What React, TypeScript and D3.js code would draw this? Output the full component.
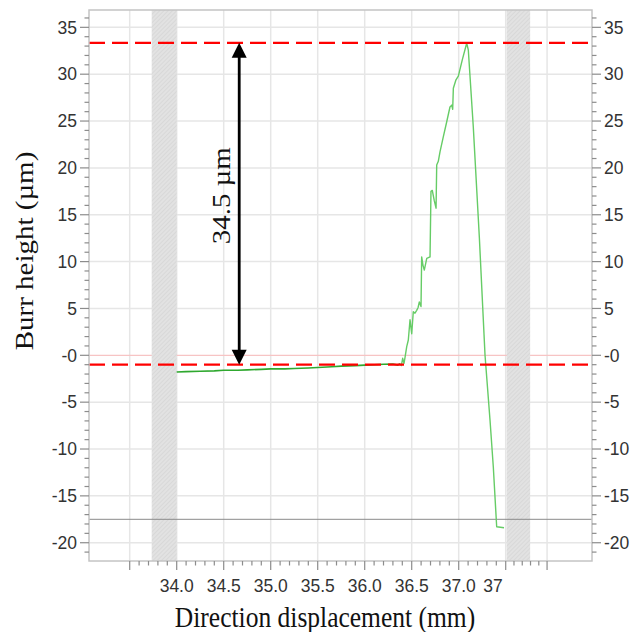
import * as d3 from 'd3';
import React, { useEffect, useRef } from 'react';

// values (x in mm, y in µm)
const flatX = [34.0, 34.1, 34.25, 34.4, 34.5, 34.65, 34.75, 34.9, 35.0, 35.15, 35.25, 35.4, 35.5, 35.65, 35.75, 35.9, 36.0, 36.1, 36.2, 36.3, 36.35, 36.376];
const flatY = [-1.78, -1.74, -1.7, -1.66, -1.6, -1.6, -1.55, -1.5, -1.45, -1.45, -1.4, -1.35, -1.3, -1.22, -1.15, -1.1, -1.05, -1.0, -0.95, -0.93, -1.05, -0.9];
const riseX = [36.376, 36.39, 36.404, 36.418, 36.429, 36.447, 36.464, 36.482, 36.5, 36.517, 36.535, 36.553, 36.568, 36.581, 36.599, 36.606, 36.62, 36.634, 36.66, 36.695, 36.705, 36.719, 36.74, 36.759, 36.766, 36.783, 36.801, 36.836, 36.872, 36.907, 36.926, 36.936, 36.943, 36.971, 36.996, 37.04, 37.085, 37.102, 37.155, 37.22, 37.28, 37.333, 37.368, 37.404, 37.482];
const riseY = [-0.9, -1.1, -0.32, -0.86, -0.21, 0.92, 1.63, 3.8, 2.3, 4.65, 4.5, 4.8, 5.1, 5.7, 5.2, 10.5, 9.6, 9.1, 10.35, 10.5, 17.5, 17.6, 16.5, 15.7, 20.3, 20.7, 21.7, 23.3, 24.9, 26.5, 26.7, 26.25, 28.5, 29.4, 29.8, 31.6, 33.3, 32.6, 24.4, 12.5, 0, -6.9, -11.9, -18.3, -18.4];

const xMajorTicks = [33.5, 34.0, 34.5, 35.0, 35.5, 36.0, 36.5, 37.0, 37.5, 37.94];
const xLabelValues = [34.0, 34.5, 35.0, 35.5, 36.0, 36.5, 37.0, 37.5];
const xLabels = ['34.0', '34.5', '35.0', '35.5', '36.0', '36.5', '37.0', '37'];
const yTicks = [-20, -15, -10, -5, 0, 5, 10, 15, 20, 25, 30, 35];
const yLabels = ['-20', '-15', '-10', '-5', '-0', '5', '10', '15', '20', '25', '30', '35'];
const bands = [[33.734, 34.0], [37.51, 37.76]];
const peakLevel = 33.35;
const baseLevel = -1.0;
const lowLevel = -17.5;
const arrowX = 34.665;
const arrowLabel = '34.5 µm';

export default function App() {
    const svgRef = useRef(null);

    useEffect(() => {
        const W = 633, H = 632;
        const left = 89, right = 592, top = 10, bottom = 561;
        const svg = d3.select(svgRef.current);
        svg.selectAll('*').remove();
        svg.attr('width', W).attr('height', H);

        const x = d3.scaleLinear().domain([33.067, 38.418]).range([left, right]);
        const y = d3.scaleLinear().domain([-21.95, 36.85]).range([bottom, top]);

        const defs = svg.append('defs');
        const pat = defs.append('pattern').attr('id', 'hatch').attr('patternUnits', 'userSpaceOnUse')
            .attr('width', 3).attr('height', 3).attr('patternTransform', 'rotate(45)');
        pat.append('rect').attr('width', 3).attr('height', 3).attr('fill', '#e2e2e2');
        pat.append('line').attr('x1', 0).attr('y1', 0).attr('x2', 0).attr('y2', 3).attr('stroke', '#cfcfcf').attr('stroke-width', 1);

        svg.append('rect').attr('x', left).attr('y', top).attr('width', right - left).attr('height', bottom - top).attr('fill', '#fff');

        // grid
        const g = svg.append('g');
        g.selectAll('.vg').data(xMajorTicks).join('line')
            .attr('x1', d => x(d)).attr('x2', d => x(d)).attr('y1', top).attr('y2', bottom)
            .attr('stroke', '#e6e6e6').attr('stroke-width', 1.5);
        g.selectAll('.hg').data(yTicks.filter(d => d !== 0)).join('line')
            .attr('class', 'hg')
            .attr('x1', left).attr('x2', right).attr('y1', d => y(d)).attr('y2', d => y(d))
            .attr('stroke', '#e6e6e6').attr('stroke-width', 1.5);
        svg.append('line').attr('x1', left).attr('x2', right).attr('y1', y(0)).attr('y2', y(0))
            .attr('stroke', '#f7c4c4').attr('stroke-width', 1.2);

        // hatched bands
        svg.selectAll('.band').data(bands).join('rect')
            .attr('class', 'band')
            .attr('x', d => x(d[0])).attr('width', d => x(d[1]) - x(d[0]))
            .attr('y', top).attr('height', bottom - top)
            .attr('fill', 'url(#hatch)');

        svg.append('line').attr('x1', left).attr('x2', right).attr('y1', y(lowLevel)).attr('y2', y(lowLevel))
            .attr('stroke', '#8a8a8a').attr('stroke-width', 1);

        // data
        const line = d3.line().x(d => x(d[0])).y(d => y(d[1]));
        svg.append('path').datum(flatX.map((v, i) => [v, flatY[i]]))
            .attr('d', line).attr('fill', 'none').attr('stroke', '#2fa82f').attr('stroke-width', 1.6);
        svg.append('path').datum(riseX.map((v, i) => [v, riseY[i]]))
            .attr('d', line).attr('fill', 'none').attr('stroke', '#66cc66').attr('stroke-width', 1.4)
            .attr('stroke-linejoin', 'round');

        // red dashed reference lines
        svg.selectAll('.ref').data([peakLevel, baseLevel]).join('line')
            .attr('class', 'ref')
            .attr('x1', left).attr('x2', right).attr('y1', d => y(d)).attr('y2', d => y(d))
            .attr('stroke', '#ff0000').attr('stroke-width', 2.2).attr('stroke-dasharray', '16 7');

        // double arrow
        const ax = x(arrowX), ay1 = y(peakLevel), ay2 = y(baseLevel);
        svg.append('line').attr('x1', ax).attr('x2', ax).attr('y1', ay1 + 12).attr('y2', ay2 - 12)
            .attr('stroke', '#000').attr('stroke-width', 2.8);
        svg.append('path').attr('d', `M${ax},${ay1} L${ax - 7.5},${ay1 + 15} L${ax + 7.5},${ay1 + 15} Z`).attr('fill', '#000');
        svg.append('path').attr('d', `M${ax},${ay2} L${ax - 7.5},${ay2 - 15} L${ax + 7.5},${ay2 - 15} Z`).attr('fill', '#000');
        svg.append('text')
            .attr('transform', `translate(${ax - 9},${(ay1 + ay2) / 2 - 8}) scale(0.88,1) rotate(-90)`)
            .attr('text-anchor', 'middle')
            .attr('font-family', '"Liberation Serif", "Times New Roman", serif')
            .attr('font-size', 29).attr('fill', '#111')
            .text(arrowLabel);

        // frame
        svg.append('rect').attr('x', left).attr('y', top).attr('width', right - left).attr('height', bottom - top)
            .attr('fill', 'none').attr('stroke', '#c4c4c4').attr('stroke-width', 1.5);

        // ticks
        const tickColor = '#8c8c8c';
        const yMinor = d3.range(-21, 37).filter(v => v % 5 !== 0);
        const xMinor = [];
        for (let i = 0; i < xMajorTicks.length - 1; i++) {
            const a = xMajorTicks[i], b = xMajorTicks[i + 1];
            for (let k = 1; k < 5; k++) xMinor.push(a + (b - a) * k / 5);
        }
        const ax2 = svg.append('g').attr('stroke', tickColor).attr('stroke-width', 1.2);
        [[left, -1], [right, 1]].forEach(([px, dir]) => {
            ax2.append('g').selectAll('line').data(yTicks).join('line')
                .attr('x1', px).attr('x2', px + dir * 9).attr('y1', d => y(d)).attr('y2', d => y(d));
            ax2.append('g').selectAll('line').data(yMinor).join('line')
                .attr('x1', px).attr('x2', px + dir * 4.5).attr('y1', d => y(d)).attr('y2', d => y(d));
        });
        ax2.append('g').selectAll('line').data(xMajorTicks).join('line')
            .attr('x1', d => x(d)).attr('x2', d => x(d)).attr('y1', bottom).attr('y2', bottom + 9);
        ax2.append('g').selectAll('line').data(xMinor).join('line')
            .attr('x1', d => x(d)).attr('x2', d => x(d)).attr('y1', bottom).attr('y2', bottom + 4.5);

        const sans = '"Liberation Sans", Arial, sans-serif';
        svg.append('g').selectAll('text').data(yTicks).join('text')
            .attr('x', 77).attr('y', d => y(d)).attr('dy', '0.36em')
            .attr('text-anchor', 'end').attr('font-family', sans).attr('font-size', 17.5).attr('fill', '#333')
            .text((d, i) => yLabels[i]);
        svg.append('g').selectAll('text').data(yTicks).join('text')
            .attr('x', 604).attr('y', d => y(d)).attr('dy', '0.36em')
            .attr('text-anchor', 'start').attr('font-family', sans).attr('font-size', 17.5).attr('fill', '#333')
            .text((d, i) => yLabels[i]);
        svg.append('g').selectAll('text').data(xLabelValues).join('text')
            .attr('x', (d, i) => i === xLabelValues.length - 1 ? x(d) - 3 : x(d))
            .attr('y', 591.5)
            .attr('text-anchor', (d, i) => i === xLabelValues.length - 1 ? 'end' : 'middle')
            .attr('font-family', sans).attr('font-size', 17.5).attr('fill', '#333')
            .text((d, i) => xLabels[i]);

        const serif = '"Liberation Serif", "Times New Roman", serif';
        svg.append('text')
            .attr('transform', 'translate(325,627) scale(0.88,1)')
            .attr('text-anchor', 'middle').attr('font-family', serif).attr('font-size', 29).attr('fill', '#111')
            .text('Direction displacement (mm)');
        svg.append('text')
            .attr('transform', 'translate(33,251) scale(0.88,1) rotate(-90)')
            .attr('text-anchor', 'middle').attr('font-family', serif).attr('font-size', 29).attr('fill', '#111')
            .text('Burr height (µm)');
    }, []);

    return (
        <div style={{ position: 'absolute', left: 0, top: 0 }}>
            <svg ref={svgRef} style={{ display: 'block' }} />
        </div>
    );
}
